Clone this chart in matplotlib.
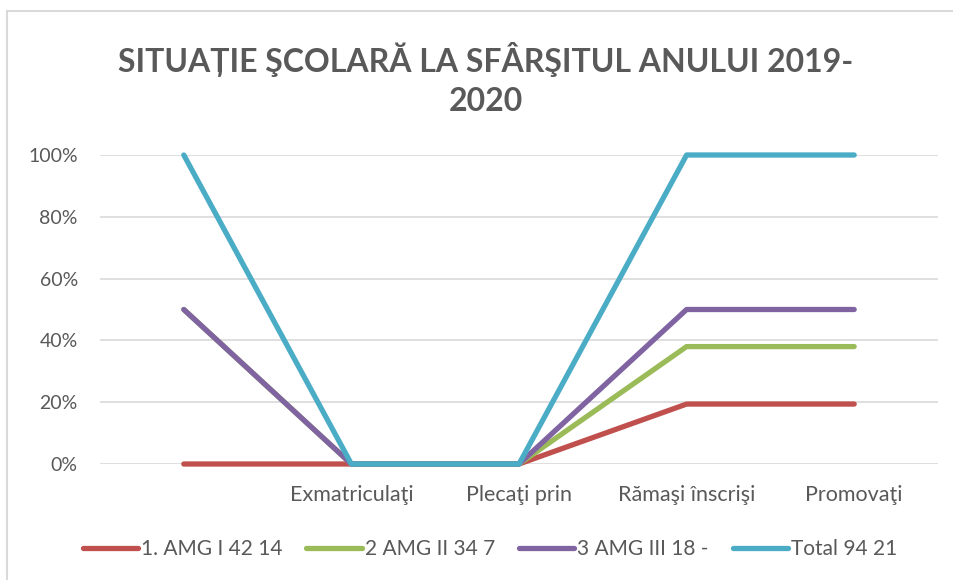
import matplotlib
matplotlib.use("Agg")
import matplotlib.pyplot as plt
from matplotlib.patches import Rectangle

categories = ["", "Exmatriculaţi", "Plecaţi prin", "Rămaşi înscrişi", "Promovaţi"]
series_names = ["1. AMG I 42 14", "2 AMG II 34 7", "3 AMG III 18 -", "Total 94 21"]
# plotted (stacked, percent of total) positions
s1 = [0.0, 0.0, 0.0, 0.194, 0.194]
s2 = [0.50, 0.0, 0.0, 0.38, 0.38]
s3 = [0.50, 0.0, 0.0, 0.50, 0.50]
s4 = [1.0, 0.0, 0.0, 1.0, 1.0]
y_ticks = [0, 0.2, 0.4, 0.6, 0.8, 1.0]
y_labels = ["0%", "20%", "40%", "60%", "80%", "100%"]
title = "SITUAȚIE ŞCOLARĂ LA SFÂRŞITUL ANULUI 2019-\n2020"

colors = ["#C0504D", "#9BBB59", "#8064A2", "#4BACC6"]
txt = "#595959"
plt.rcParams['font.family'] = ['Lato', 'DejaVu Sans']

W, H = 954, 580
fig = plt.figure(figsize=(W/100, H/100), dpi=100)
ax = fig.add_axes([100/W, 1-464/H, (938-100)/W, (464-155)/H])

x = list(range(len(categories)))
for vals, c, n in zip([s1, s2, s3, s4], colors, series_names):
    ax.plot(x, vals, color=c, lw=3.8, solid_capstyle='round', label=n, clip_on=False, zorder=3)

ax.set_xlim(-0.5, len(categories)-0.5)
ax.set_ylim(0, 1)
ax.set_yticks(y_ticks)
ax.set_yticklabels(y_labels, fontsize=14, color=txt)
ax.set_xticks(x)
ax.set_xticklabels(categories, fontsize=15.5, color=txt)
ax.tick_params(length=0)
ax.tick_params(axis='y', pad=16)
ax.tick_params(axis='x', pad=15)
for sp in ax.spines.values():
    sp.set_visible(False)
ax.grid(axis='y', color='#D9D9D9', lw=1.2, zorder=0)
ax.set_axisbelow(True)

fig.text(486/W, 1-79/H, title, ha='center', va='center', fontsize=23, fontweight='bold',
         color=txt, linespacing=1.45, multialignment='center')

fig.legend(loc='center', bbox_to_anchor=(490/W, 1-549/H), ncol=4, frameon=False,
           fontsize=15, handlelength=2.65, handletextpad=0.15, columnspacing=1.15,
           labelcolor=txt)

fig.patches.append(Rectangle((7/W, -0.1), 1.2, (1-11/H)+0.1, transform=fig.transFigure,
                             fill=False, ec='#D9D9D9', lw=1.5))

fig.savefig("out.png", dpi=100)
